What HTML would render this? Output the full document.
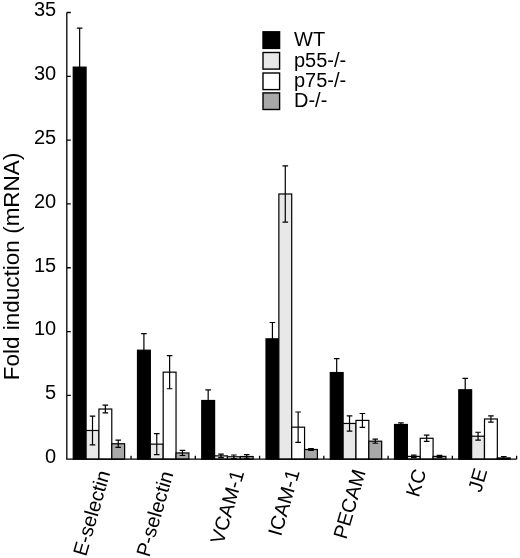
<!DOCTYPE html>
<html><head><meta charset="utf-8"><style>
html,body{margin:0;padding:0;background:#fff;width:520px;height:558px;overflow:hidden}
svg{display:block;filter:grayscale(1)}
text{font-family:"Liberation Sans",sans-serif;fill:#000}
.t{font-size:20px}
.yl{font-size:22.5px}
.xl{font-size:20px}
</style></head><body>
<svg width="520" height="558" viewBox="0 0 520 558">
<rect x="73.23" y="67.12" width="12.85" height="392.08" fill="#000" stroke="#000" stroke-width="1.2"/>
<rect x="86.08" y="430.48" width="12.85" height="28.72" fill="#e8e8e8" stroke="#000" stroke-width="1.2"/>
<rect x="98.93" y="409.04" width="12.85" height="50.16" fill="#fff" stroke="#000" stroke-width="1.2"/>
<rect x="111.78" y="443.76" width="12.85" height="15.44" fill="#a8a8a8" stroke="#000" stroke-width="1.2"/>
<rect x="137.49" y="350.20" width="12.85" height="109.00" fill="#000" stroke="#000" stroke-width="1.2"/>
<rect x="150.34" y="444.14" width="12.85" height="15.06" fill="#e8e8e8" stroke="#000" stroke-width="1.2"/>
<rect x="163.19" y="372.16" width="12.85" height="87.04" fill="#fff" stroke="#000" stroke-width="1.2"/>
<rect x="176.04" y="452.95" width="12.85" height="6.25" fill="#a8a8a8" stroke="#000" stroke-width="1.2"/>
<rect x="201.75" y="400.49" width="12.85" height="58.71" fill="#000" stroke="#000" stroke-width="1.2"/>
<rect x="214.60" y="455.88" width="12.85" height="3.32" fill="#e8e8e8" stroke="#000" stroke-width="1.2"/>
<rect x="227.45" y="456.78" width="12.85" height="2.42" fill="#fff" stroke="#000" stroke-width="1.2"/>
<rect x="240.30" y="456.52" width="12.85" height="2.68" fill="#a8a8a8" stroke="#000" stroke-width="1.2"/>
<rect x="266.01" y="338.84" width="12.85" height="120.36" fill="#000" stroke="#000" stroke-width="1.2"/>
<rect x="278.86" y="193.98" width="12.85" height="265.22" fill="#e8e8e8" stroke="#000" stroke-width="1.2"/>
<rect x="291.71" y="427.16" width="12.85" height="32.04" fill="#fff" stroke="#000" stroke-width="1.2"/>
<rect x="304.56" y="449.50" width="12.85" height="9.70" fill="#a8a8a8" stroke="#000" stroke-width="1.2"/>
<rect x="330.27" y="372.54" width="12.85" height="86.66" fill="#000" stroke="#000" stroke-width="1.2"/>
<rect x="343.12" y="423.46" width="12.85" height="35.74" fill="#e8e8e8" stroke="#000" stroke-width="1.2"/>
<rect x="355.97" y="420.40" width="12.85" height="38.80" fill="#fff" stroke="#000" stroke-width="1.2"/>
<rect x="368.82" y="441.20" width="12.85" height="18.00" fill="#a8a8a8" stroke="#000" stroke-width="1.2"/>
<rect x="394.53" y="424.48" width="12.85" height="34.72" fill="#000" stroke="#000" stroke-width="1.2"/>
<rect x="407.38" y="456.39" width="12.85" height="2.81" fill="#e8e8e8" stroke="#000" stroke-width="1.2"/>
<rect x="420.23" y="438.27" width="12.85" height="20.93" fill="#fff" stroke="#000" stroke-width="1.2"/>
<rect x="433.08" y="456.39" width="12.85" height="2.81" fill="#a8a8a8" stroke="#000" stroke-width="1.2"/>
<rect x="458.79" y="389.77" width="12.85" height="69.43" fill="#000" stroke="#000" stroke-width="1.2"/>
<rect x="471.64" y="436.23" width="12.85" height="22.97" fill="#e8e8e8" stroke="#000" stroke-width="1.2"/>
<rect x="484.49" y="419.00" width="12.85" height="40.20" fill="#fff" stroke="#000" stroke-width="1.2"/>
<rect x="497.34" y="457.92" width="12.85" height="1.28" fill="#a8a8a8" stroke="#000" stroke-width="1.2"/>
<path d="M79.65 106.18V28.07M76.85 28.07H82.45M76.85 106.18H82.45" stroke="#000" stroke-width="1.2" fill="none"/>
<path d="M92.50 444.78V416.19M89.70 416.19H95.30M89.70 444.78H95.30" stroke="#000" stroke-width="1.2" fill="none"/>
<path d="M105.36 412.87V405.21M102.56 405.21H108.16M102.56 412.87H108.16" stroke="#000" stroke-width="1.2" fill="none"/>
<path d="M118.21 447.46V440.06M115.41 440.06H121.01M115.41 447.46H121.01" stroke="#000" stroke-width="1.2" fill="none"/>
<path d="M143.91 366.80V333.61M141.11 333.61H146.71M141.11 366.80H146.71" stroke="#000" stroke-width="1.2" fill="none"/>
<path d="M156.76 454.61V433.67M153.96 433.67H159.56M153.96 454.61H159.56" stroke="#000" stroke-width="1.2" fill="none"/>
<path d="M169.62 388.75V355.56M166.82 355.56H172.42M166.82 388.75H172.42" stroke="#000" stroke-width="1.2" fill="none"/>
<path d="M182.47 455.50V450.39M179.67 450.39H185.27M179.67 455.50H185.27" stroke="#000" stroke-width="1.2" fill="none"/>
<path d="M208.17 411.08V389.90M205.37 389.90H210.97M205.37 411.08H210.97" stroke="#000" stroke-width="1.2" fill="none"/>
<path d="M221.02 457.54V454.22M218.22 454.22H223.82M218.22 457.54H223.82" stroke="#000" stroke-width="1.2" fill="none"/>
<path d="M233.88 458.56V454.99M231.08 454.99H236.68M231.08 458.56H236.68" stroke="#000" stroke-width="1.2" fill="none"/>
<path d="M246.73 458.43V454.61M243.93 454.61H249.53M243.93 458.43H249.53" stroke="#000" stroke-width="1.2" fill="none"/>
<path d="M272.43 355.18V322.51M269.63 322.51H275.23M269.63 355.18H275.23" stroke="#000" stroke-width="1.2" fill="none"/>
<path d="M285.28 222.06V165.91M282.48 165.91H288.08M282.48 222.06H288.08" stroke="#000" stroke-width="1.2" fill="none"/>
<path d="M298.14 442.35V411.98M295.34 411.98H300.94M295.34 442.35H300.94" stroke="#000" stroke-width="1.2" fill="none"/>
<path d="M310.99 450.52V448.48M308.19 448.48H313.79M308.19 450.52H313.79" stroke="#000" stroke-width="1.2" fill="none"/>
<path d="M336.69 386.45V358.63M333.89 358.63H339.49M333.89 386.45H339.49" stroke="#000" stroke-width="1.2" fill="none"/>
<path d="M349.54 431.12V415.81M346.74 415.81H352.34M346.74 431.12H352.34" stroke="#000" stroke-width="1.2" fill="none"/>
<path d="M362.40 427.29V413.51M359.60 413.51H365.20M359.60 427.29H365.20" stroke="#000" stroke-width="1.2" fill="none"/>
<path d="M375.25 443.25V439.16M372.45 439.16H378.05M372.45 443.25H378.05" stroke="#000" stroke-width="1.2" fill="none"/>
<path d="M400.95 426.14V422.83M398.15 422.83H403.75M398.15 426.14H403.75" stroke="#000" stroke-width="1.2" fill="none"/>
<path d="M413.80 457.67V455.12M411.00 455.12H416.60M411.00 457.67H416.60" stroke="#000" stroke-width="1.2" fill="none"/>
<path d="M426.66 441.33V435.21M423.86 435.21H429.46M423.86 441.33H429.46" stroke="#000" stroke-width="1.2" fill="none"/>
<path d="M439.51 457.41V455.37M436.71 455.37H442.31M436.71 457.41H442.31" stroke="#000" stroke-width="1.2" fill="none"/>
<path d="M465.21 401.13V378.41M462.41 378.41H468.01M462.41 401.13H468.01" stroke="#000" stroke-width="1.2" fill="none"/>
<path d="M478.06 440.18V432.27M475.26 432.27H480.86M475.26 440.18H480.86" stroke="#000" stroke-width="1.2" fill="none"/>
<path d="M490.92 422.19V415.81M488.12 415.81H493.72M488.12 422.19H493.72" stroke="#000" stroke-width="1.2" fill="none"/>
<path d="M503.77 459.20V456.65M500.97 456.65H506.57M500.97 459.20H506.57" stroke="#000" stroke-width="1.2" fill="none"/>
<path d="M66.8 12.50V459.2H516.62M66.8 459.20H70.8M66.8 395.38H70.8M66.8 331.57H70.8M66.8 267.75H70.8M66.8 203.94H70.8M66.8 140.12H70.8M66.8 76.31H70.8M66.8 12.50H70.8M131.06 459.2V455.7M195.32 459.2V455.7M259.58 459.2V455.7M323.84 459.2V455.7M388.10 459.2V455.7M452.36 459.2V455.7M516.62 459.2V455.7" stroke="#000" stroke-width="1.3" fill="none"/>
<text x="56.2" y="463.10" text-anchor="end" class="t">0</text>
<text x="56.2" y="399.28" text-anchor="end" class="t">5</text>
<text x="56.2" y="335.47" text-anchor="end" class="t">10</text>
<text x="56.2" y="271.65" text-anchor="end" class="t">15</text>
<text x="56.2" y="207.84" text-anchor="end" class="t">20</text>
<text x="56.2" y="144.03" text-anchor="end" class="t">25</text>
<text x="56.2" y="80.21" text-anchor="end" class="t">30</text>
<text x="56.2" y="16.40" text-anchor="end" class="t">35</text>
<rect x="263" y="31.8" width="16.6" height="16.6" fill="#000" stroke="#000" stroke-width="1.4"/>
<text x="294" y="46.1" class="t">WT</text>
<rect x="263" y="52.5" width="16.6" height="16.6" fill="#e8e8e8" stroke="#000" stroke-width="1.4"/>
<text x="294" y="66.8" class="t">p55-/-</text>
<rect x="263" y="73.0" width="16.6" height="16.6" fill="#fff" stroke="#000" stroke-width="1.4"/>
<text x="294" y="87.3" class="t">p75-/-</text>
<rect x="263" y="92.9" width="16.6" height="16.6" fill="#a8a8a8" stroke="#000" stroke-width="1.4"/>
<text x="294" y="107.2" class="t">D-/-</text>
<text transform="translate(19.2 380.2) rotate(-90)" class="yl">Fold induction (mRNA)</text>
<text transform="translate(110.43 472.70) rotate(-73.8)" text-anchor="end" class="xl">E-selectin</text>
<text transform="translate(173.69 473.50) rotate(-73.8)" text-anchor="end" class="xl">P-selectin</text>
<text transform="translate(244.25 472.50) rotate(-73.8)" text-anchor="end" class="xl">VCAM-1</text>
<text transform="translate(299.81 471.80) rotate(-73.8)" text-anchor="end" class="xl">ICAM-1</text>
<text transform="translate(365.97 471.80) rotate(-73.8)" text-anchor="end" class="xl">PECAM</text>
<text transform="translate(426.43 471.40) rotate(-73.8)" text-anchor="end" class="xl">KC</text>
<text transform="translate(487.59 470.80) rotate(-73.8)" text-anchor="end" class="xl">JE</text>
</svg>
</body></html>
